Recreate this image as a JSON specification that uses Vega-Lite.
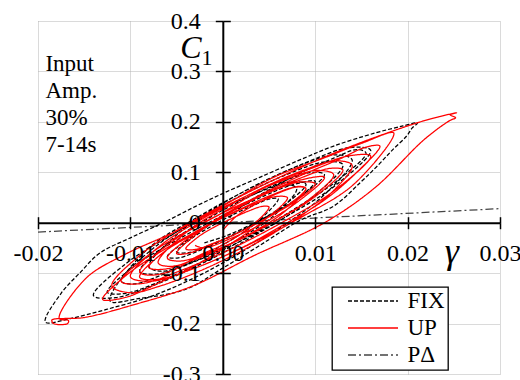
{
  "$schema": "https://vega.github.io/schema/vega-lite/v6.json",
  "width": 462,
  "height": 353,
  "autosize": "none",
  "padding": {"left": 38, "top": 21, "right": 20, "bottom": 6},
  "background": "white",
  "config": {"view": {"stroke": null}, "font": "Times New Roman, Liberation Serif, serif", "legend": {"strokeColor": "black", "strokeWidth": 1.3, "fillColor": "white"}},
  "datasets": {
    "curves": [
      {"s":"PΔ","g":-0.02,"c":-0.0186},{"s":"PΔ","g":0.03,"c":0.0279},
      {"s":"FIX","g":0,"c":-0.01},
      {"s":"FIX","g":0.0012,"c":0.0194},{"s":"FIX","g":0.0028,"c":0.0408},{"s":"FIX","g":0.0044,"c":0.0571},{"s":"FIX","g":0.006,"c":0.0693},{"s":"FIX","g":0.0074,"c":0.0743},{"s":"FIX","g":0.008,"c":0.0668},
      {"s":"FIX","g":0.0056,"c":0.0152},{"s":"FIX","g":0.0024,"c":-0.0252},{"s":"FIX","g":-0.0008,"c":-0.0575},{"s":"FIX","g":-0.004,"c":-0.083},{"s":"FIX","g":-0.0067,"c":-0.0962},{"s":"FIX","g":-0.008,"c":-0.0868},
      {"s":"FIX","g":-0.0047,"c":-0.0194},{"s":"FIX","g":-0.0003,"c":0.0348},{"s":"FIX","g":0.0041,"c":0.0792},{"s":"FIX","g":0.0085,"c":0.1149},{"s":"FIX","g":0.0122,"c":0.1347},{"s":"FIX","g":0.014,"c":0.1244},
      {"s":"FIX","g":0.0113,"c":0.0609},{"s":"FIX","g":0.0074,"c":0.0047},{"s":"FIX","g":0.0024,"c":-0.054},{"s":"FIX","g":-0.0026,"c":-0.105},{"s":"FIX","g":-0.0076,"c":-0.145},{"s":"FIX","g":-0.0126,"c":-0.172},{"s":"FIX","g":-0.0165,"c":-0.19},{"s":"FIX","g":-0.0192,"c":-0.197},
      {"s":"FIX","g":-0.0175,"c":-0.14},{"s":"FIX","g":-0.0155,"c":-0.1},{"s":"FIX","g":-0.0133,"c":-0.06},{"s":"FIX","g":-0.01,"c":-0.03},{"s":"FIX","g":-0.006,"c":0.004},{"s":"FIX","g":-0.003,"c":0.032},{"s":"FIX","g":0,"c":0.058},{"s":"FIX","g":0.004,"c":0.09},{"s":"FIX","g":0.0084,"c":0.125},{"s":"FIX","g":0.012,"c":0.152},{"s":"FIX","g":0.0165,"c":0.178},{"s":"FIX","g":0.0195,"c":0.192},{"s":"FIX","g":0.0211,"c":0.198},
      {"s":"FIX","g":0.0205,"c":0.188},{"s":"FIX","g":0.0199,"c":0.172},{"s":"FIX","g":0.0184,"c":0.145},{"s":"FIX","g":0.0167,"c":0.112},{"s":"FIX","g":0.0149,"c":0.08},{"s":"FIX","g":0.012,"c":0.033},{"s":"FIX","g":0.0084,"c":0.005},{"s":"FIX","g":0.004,"c":-0.045},{"s":"FIX","g":0,"c":-0.09},{"s":"FIX","g":-0.004,"c":-0.132},{"s":"FIX","g":-0.009,"c":-0.15},{"s":"FIX","g":-0.0122,"c":-0.155},
      {"s":"FIX","g":-0.0082,"c":-0.0533},{"s":"FIX","g":-0.0025,"c":0.0134},{"s":"FIX","g":0.0032,"c":0.0703},{"s":"FIX","g":0.0089,"c":0.1185},{"s":"FIX","g":0.0137,"c":0.1489},{"s":"FIX","g":0.016,"c":0.1436},
      {"s":"FIX","g":0.0123,"c":0.0755},{"s":"FIX","g":0.0073,"c":0.0167},{"s":"FIX","g":0.0023,"c":-0.0332},{"s":"FIX","g":-0.0028,"c":-0.0754},{"s":"FIX","g":-0.007,"c":-0.1016},{"s":"FIX","g":-0.009,"c":-0.0964},
      {"s":"FIX","g":-0.006,"c":-0.0426},{"s":"FIX","g":-0.002,"c":0.0042},{"s":"FIX","g":0.002,"c":0.044},{"s":"FIX","g":0.006,"c":0.0779},{"s":"FIX","g":0.0094,"c":0.0992},{"s":"FIX","g":0.011,"c":0.0956},
      {"s":"FIX","g":0.0086,"c":0.0547},{"s":"FIX","g":0.0054,"c":0.0179},{"s":"FIX","g":0.0022,"c":-0.0138},{"s":"FIX","g":-0.001,"c":-0.0413},{"s":"FIX","g":-0.0037,"c":-0.0593},{"s":"FIX","g":-0.005,"c":-0.058},
      {"s":"FIX","g":-0.0034,"c":-0.0315},{"s":"FIX","g":-0.0012,"c":-0.0067},{"s":"FIX","g":0.001,"c":0.015},{"s":"FIX","g":0.0033,"c":0.0342},{"s":"FIX","g":0.0051,"c":0.0473},{"s":"FIX","g":0.006,"c":0.0476},
      {"s":"FIX","g":0.0035,"c":-0.0019},{"s":"FIX","g":0.0001,"c":-0.0429},{"s":"FIX","g":-0.0034,"c":-0.077},{"s":"FIX","g":-0.0068,"c":-0.1051},{"s":"FIX","g":-0.0096,"c":-0.1215},{"s":"FIX","g":-0.011,"c":-0.1156},
      {"s":"FIX","g":-0.0074,"c":-0.0489},{"s":"FIX","g":-0.0026,"c":0.0079},{"s":"FIX","g":0.0022,"c":0.0559},{"s":"FIX","g":0.007,"c":0.0962},{"s":"FIX","g":0.0111,"c":0.1208},{"s":"FIX","g":0.013,"c":0.1148},
      {"s":"FIX","g":0.009,"c":0.0402},{"s":"FIX","g":0.0036,"c":-0.0236},{"s":"FIX","g":-0.0019,"c":-0.0776},{"s":"FIX","g":-0.0073,"c":-0.1229},{"s":"FIX","g":-0.0116,"c":-0.1485},{"s":"FIX","g":-0.014,"c":-0.1444},
      {"s":"FIX","g":-0.0106,"c":-0.0827},{"s":"FIX","g":-0.006,"c":-0.0289},{"s":"FIX","g":-0.0014,"c":0.0168},{"s":"FIX","g":0.0033,"c":0.0558},{"s":"FIX","g":0.0072,"c":0.0804},{"s":"FIX","g":0.009,"c":0.0764},
      {"s":"FIX","g":0.0068,"c":0.0369},{"s":"FIX","g":0.0038,"c":0.0021},{"s":"FIX","g":0.0008,"c":-0.0277},{"s":"FIX","g":-0.0023,"c":-0.0533},{"s":"FIX","g":-0.0048,"c":-0.0697},{"s":"FIX","g":-0.006,"c":-0.0676},
      {"s":"FIX","g":-0.0035,"c":-0.03},{"s":"FIX","g":0.0,"c":0.012},{"s":"FIX","g":0.004,"c":0.055},{"s":"FIX","g":0.008,"c":0.095},{"s":"FIX","g":0.012,"c":0.128},{"s":"FIX","g":0.0145,"c":0.145},{"s":"FIX","g":0.0155,"c":0.138},
      {"s":"FIX","g":0.0125,"c":0.085},{"s":"FIX","g":0.008,"c":0.03},{"s":"FIX","g":0.003,"c":-0.025},{"s":"FIX","g":-0.002,"c":-0.075},{"s":"FIX","g":-0.007,"c":-0.118},{"s":"FIX","g":-0.0105,"c":-0.14},{"s":"FIX","g":-0.0125,"c":-0.138},
      {"s":"FIX","g":-0.0095,"c":-0.085},{"s":"FIX","g":-0.0055,"c":-0.04},{"s":"FIX","g":-0.001,"c":0.005},{"s":"FIX","g":0.0035,"c":0.045},{"s":"FIX","g":0.0075,"c":0.075},{"s":"FIX","g":0.01,"c":0.082},
      {"s":"FIX","g":0.0075,"c":0.04},{"s":"FIX","g":0.004,"c":0.005},{"s":"FIX","g":0.0005,"c":-0.025},{"s":"FIX","g":-0.002,"c":-0.04},
      {"s":"UP","g":0,"c":-0.015},
      {"s":"UP","g":0.0014,"c":0.0117},{"s":"UP","g":0.0032,"c":0.0331},{"s":"UP","g":0.005,"c":0.0504},{"s":"UP","g":0.0068,"c":0.0644},{"s":"UP","g":0.0083,"c":0.0721},{"s":"UP","g":0.009,"c":0.0678},
      {"s":"UP","g":0.0066,"c":0.0207},{"s":"UP","g":0.0034,"c":-0.0171},{"s":"UP","g":0.0002,"c":-0.048},{"s":"UP","g":-0.003,"c":-0.0729},{"s":"UP","g":-0.0057,"c":-0.0866},{"s":"UP","g":-0.007,"c":-0.0794},
      {"s":"UP","g":-0.0039,"c":-0.0183},{"s":"UP","g":0.0004,"c":0.0311},{"s":"UP","g":0.0046,"c":0.0717},{"s":"UP","g":0.0088,"c":0.1045},{"s":"UP","g":0.0123,"c":0.1227},{"s":"UP","g":0.014,"c":0.1138},
      {"s":"UP","g":0.0119,"c":0.0621},{"s":"UP","g":0.0088,"c":0.018},{"s":"UP","g":0.0049,"c":-0.0271},{"s":"UP","g":0.001,"c":-0.0658},{"s":"UP","g":-0.0029,"c":-0.0989},{"s":"UP","g":-0.0068,"c":-0.1256},{"s":"UP","g":-0.0099,"c":-0.1389},{"s":"UP","g":-0.012,"c":-0.1254},
      {"s":"UP","g":-0.009,"c":-0.065},{"s":"UP","g":-0.0045,"c":-0.01},{"s":"UP","g":0.0011,"c":0.045},{"s":"UP","g":0.0067,"c":0.095},{"s":"UP","g":0.0123,"c":0.14},{"s":"UP","g":0.0178,"c":0.178},{"s":"UP","g":0.0223,"c":0.205},{"s":"UP","g":0.0253,"c":0.218},
      {"s":"UP","g":0.0246,"c":0.214},{"s":"UP","g":0.0252,"c":0.208},{"s":"UP","g":0.0246,"c":0.203},
      {"s":"UP","g":0.0218,"c":0.165},{"s":"UP","g":0.0165,"c":0.07},{"s":"UP","g":0.011,"c":0.0},{"s":"UP","g":0.0034,"c":-0.065},{"s":"UP","g":-0.0032,"c":-0.125},{"s":"UP","g":-0.0097,"c":-0.163},{"s":"UP","g":-0.015,"c":-0.188},{"s":"UP","g":-0.0185,"c":-0.193},
      {"s":"UP","g":-0.0183,"c":-0.2},{"s":"UP","g":-0.0168,"c":-0.2},{"s":"UP","g":-0.0167,"c":-0.194},{"s":"UP","g":-0.0177,"c":-0.19},
      {"s":"UP","g":-0.0148,"c":-0.11},{"s":"UP","g":-0.0106,"c":-0.063},{"s":"UP","g":-0.0052,"c":-0.018},{"s":"UP","g":0.0002,"c":0.035},{"s":"UP","g":0.0055,"c":0.09},{"s":"UP","g":0.0109,"c":0.128},{"s":"UP","g":0.0151,"c":0.158},{"s":"UP","g":0.0185,"c":0.178},
      {"s":"UP","g":0.0142,"c":0.0766},{"s":"UP","g":0.0085,"c":0.011},{"s":"UP","g":0.0028,"c":-0.0437},{"s":"UP","g":-0.0029,"c":-0.0891},{"s":"UP","g":-0.0077,"c":-0.1159},{"s":"UP","g":-0.01,"c":-0.107},
      {"s":"UP","g":-0.0067,"c":-0.0445},{"s":"UP","g":-0.0023,"c":0.0067},{"s":"UP","g":0.0021,"c":0.0491},{"s":"UP","g":0.0065,"c":0.0838},{"s":"UP","g":0.0102,"c":0.1036},{"s":"UP","g":0.012,"c":0.0954},
      {"s":"UP","g":0.0093,"c":0.0456},{"s":"UP","g":0.0057,"c":0.004},{"s":"UP","g":0.0021,"c":-0.0305},{"s":"UP","g":-0.0015,"c":-0.0591},{"s":"UP","g":-0.0046,"c":-0.076},{"s":"UP","g":-0.006,"c":-0.0702},
      {"s":"UP","g":-0.0038,"c":-0.0316},{"s":"UP","g":-0.0008,"c":0.002},{"s":"UP","g":0.0023,"c":0.0306},{"s":"UP","g":0.0053,"c":0.055},{"s":"UP","g":0.0078,"c":0.0704},{"s":"UP","g":0.009,"c":0.0678},
      {"s":"UP","g":0.0071,"c":0.0356},{"s":"UP","g":0.0045,"c":0.0068},{"s":"UP","g":0.0019,"c":-0.0179},{"s":"UP","g":-0.0008,"c":-0.0392},{"s":"UP","g":-0.003,"c":-0.0531},{"s":"UP","g":-0.004,"c":-0.0518},
      {"s":"UP","g":-0.0027,"c":-0.0287},{"s":"UP","g":-0.0009,"c":-0.0085},{"s":"UP","g":0.001,"c":0.0086},{"s":"UP","g":0.0028,"c":0.0233},{"s":"UP","g":0.0043,"c":0.0325},{"s":"UP","g":0.005,"c":0.031},
      {"s":"UP","g":0.0029,"c":-0.0097},{"s":"UP","g":-0.0001,"c":-0.0445},{"s":"UP","g":-0.0027,"c":-0.066},{"s":"UP","g":-0.0055,"c":-0.095},{"s":"UP","g":-0.0079,"c":-0.104},{"s":"UP","g":-0.009,"c":-0.0978},
      {"s":"UP","g":-0.0053,"c":-0.0347},{"s":"UP","g":-0.0003,"c":0.017},{"s":"UP","g":0.0048,"c":0.072},{"s":"UP","g":0.0098,"c":0.1093},{"s":"UP","g":0.0137,"c":0.1327},{"s":"UP","g":0.016,"c":0.1322},
      {"s":"UP","g":0.012,"c":0.0628},{"s":"UP","g":0.0066,"c":0.0024},{"s":"UP","g":0.0012,"c":-0.0492},{"s":"UP","g":-0.0043,"c":-0.0931},{"s":"UP","g":-0.0088,"c":-0.1207},{"s":"UP","g":-0.011,"c":-0.1162},
      {"s":"UP","g":-0.0079,"c":-0.0622},{"s":"UP","g":-0.0037,"c":-0.0152},{"s":"UP","g":0.0006,"c":0.0249},{"s":"UP","g":0.0048,"c":0.059},{"s":"UP","g":0.0083,"c":0.0805},{"s":"UP","g":0.01,"c":0.077},
      {"s":"UP","g":0.0078,"c":0.042},{"s":"UP","g":0.0048,"c":0.0096},{"s":"UP","g":0.0018,"c":-0.0188},{"s":"UP","g":-0.0013,"c":-0.0438},{"s":"UP","g":-0.0038,"c":-0.0609},{"s":"UP","g":-0.005,"c":-0.061},
      {"s":"UP","g":-0.0023,"c":-0.0148},{"s":"UP","g":0.0013,"c":0.0256},{"s":"UP","g":0.0049,"c":0.06},{"s":"UP","g":0.0085,"c":0.0892},{"s":"UP","g":0.0116,"c":0.1077},{"s":"UP","g":0.013,"c":0.1046},
      {"s":"UP","g":0.0099,"c":0.0506},{"s":"UP","g":0.0057,"c":0.0036},{"s":"UP","g":0.0015,"c":-0.0365},{"s":"UP","g":-0.0028,"c":-0.0706},{"s":"UP","g":-0.0063,"c":-0.0921},{"s":"UP","g":-0.008,"c":-0.0886},
      {"s":"UP","g":-0.0058,"c":-0.05},{"s":"UP","g":-0.0028,"c":-0.0164},{"s":"UP","g":0.0003,"c":0.0122},{"s":"UP","g":0.0033,"c":0.0366},{"s":"UP","g":0.0058,"c":0.052},{"s":"UP","g":0.007,"c":0.0494},
      {"s":"UP","g":0.0045,"c":0.005},{"s":"UP","g":0.001,"c":-0.04},{"s":"UP","g":-0.003,"c":-0.085},{"s":"UP","g":-0.007,"c":-0.12},{"s":"UP","g":-0.0105,"c":-0.148},{"s":"UP","g":-0.013,"c":-0.152},
      {"s":"UP","g":-0.0105,"c":-0.105},{"s":"UP","g":-0.0065,"c":-0.055},{"s":"UP","g":-0.002,"c":-0.008},{"s":"UP","g":0.003,"c":0.045},{"s":"UP","g":0.008,"c":0.09},{"s":"UP","g":0.0125,"c":0.125},{"s":"UP","g":0.0155,"c":0.15},{"s":"UP","g":0.017,"c":0.152},
      {"s":"UP","g":0.0145,"c":0.1},{"s":"UP","g":0.011,"c":0.045},{"s":"UP","g":0.0065,"c":-0.005},{"s":"UP","g":0.002,"c":-0.05},{"s":"UP","g":-0.003,"c":-0.09},{"s":"UP","g":-0.007,"c":-0.112},{"s":"UP","g":-0.009,"c":-0.108},
      {"s":"UP","g":-0.0065,"c":-0.06},{"s":"UP","g":-0.003,"c":-0.02},{"s":"UP","g":0.001,"c":0.025},{"s":"UP","g":0.005,"c":0.06},{"s":"UP","g":0.0085,"c":0.085},{"s":"UP","g":0.011,"c":0.09},
      {"s":"UP","g":0.008,"c":0.04},{"s":"UP","g":0.0045,"c":0.0},{"s":"UP","g":0.001,"c":-0.03},{"s":"UP","g":-0.002,"c":-0.05},{"s":"UP","g":-0.003,"c":-0.045}
    ]
  },
  "layer": [
    {
      "data": {"name": "curves"},
      "mark": {"type": "line", "interpolate": "catmull-rom", "strokeWidth": 1.25},
      "encoding": {
        "x": {"field": "g", "type": "quantitative",
          "scale": {"domain": [-0.02, 0.03], "nice": false, "zero": false},
          "axis": {"orient": "bottom", "values": [-0.02, -0.01, 0, 0.01, 0.02, 0.03], "grid": true, "gridColor": "#b4b4b4", "gridDash": [1, 1], "gridWidth": 1, "domain": false, "ticks": false, "labels": false, "title": null, "zindex": 0}},
        "y": {"field": "c", "type": "quantitative",
          "scale": {"domain": [-0.3, 0.4], "nice": false, "zero": false},
          "axis": {"orient": "left", "values": [-0.3, -0.2, -0.1, 0, 0.1, 0.2, 0.3, 0.4], "grid": true, "gridColor": "#b4b4b4", "gridDash": [1, 1], "gridWidth": 1, "domain": false, "ticks": false, "labels": false, "title": null, "zindex": 0}},
        "color": {"field": "s", "type": "nominal",
          "scale": {"domain": ["FIX", "UP", "PΔ"], "range": ["#000000", "#ff0000", "#444444"]},
          "legend": {"orient": "none", "legendX": 294, "legendY": 266, "title": null, "padding": 2.5, "symbolType": "M-5,0H5", "symbolSize": 100, "symbolStrokeWidth": 1.5, "symbolOffset": 27, "labelOffset": 23, "rowPadding": 3, "labelFont": "Times New Roman, Liberation Serif, serif", "labelFontSize": 23, "labelColor": "black", "labelExpr": "datum.label + '\u00a0\u00a0'"}},
        "strokeDash": {"field": "s", "type": "nominal",
          "scale": {"domain": ["FIX", "UP", "PΔ"], "range": [[4, 2], [1, 0], [8, 3, 2, 3]]},
          "legend": {"orient": "none", "legendX": 294, "legendY": 266, "title": null, "padding": 2.5, "symbolType": "M-5,0H5", "symbolSize": 100, "symbolStrokeWidth": 1.5, "symbolOffset": 27, "labelOffset": 23, "rowPadding": 3, "labelFont": "Times New Roman, Liberation Serif, serif", "labelFontSize": 23, "labelColor": "black", "labelExpr": "datum.label + '\u00a0\u00a0'"}},
        "order": {"value": null}
      }
    },
    {
      "data": {"values": [{}]},
      "mark": {"type": "text", "text": ["Input", "Amp.", "30%", "7-14s"], "align": "left", "baseline": "alphabetic", "font": "Times New Roman, Liberation Serif, serif", "fontSize": 23, "lineHeight": 27, "color": "black"},
      "encoding": {
        "x": {"datum": -0.0192, "type": "quantitative",
          "scale": {"domain": [-0.02, 0.03], "nice": false, "zero": false},
          "axis": {"orient": "bottom", "offset": -151.29, "values": [-0.02, -0.01, 0, 0.01, 0.02, 0.03], "labelExpr": "datum.value == 0 ? '0.00' : '' + datum.value", "grid": false, "domainColor": "black", "domainWidth": 2, "tickColor": "black", "tickWidth": 1.5, "tickSize": 6, "labelFont": "Times New Roman, Liberation Serif, serif", "labelFontSize": 24, "labelColor": "black", "labelPadding": 32, "labelBaseline": "alphabetic", "labelFlush": false, "labelOverlap": false, "labelBound": false, "title": null, "zindex": 1}},
        "y": {"datum": 0.3, "type": "quantitative",
          "scale": {"domain": [-0.3, 0.4], "nice": false, "zero": false},
          "axis": {"orient": "left", "offset": -184.8, "values": [-0.3, -0.2, -0.1, 0, 0.1, 0.2, 0.3, 0.4], "labelExpr": "'' + datum.value", "grid": false, "domainColor": "black", "domainWidth": 2, "tickColor": "black", "tickWidth": 1.5, "tickSize": 7.5, "labelFont": "Times New Roman, Liberation Serif, serif", "labelFontSize": 24, "labelColor": "black", "labelPadding": 15, "labelFlush": false, "labelOverlap": false, "labelBound": false, "title": null, "zindex": 1}}
      }
    },
    {
      "data": {"values": [{}]},
      "mark": {"type": "text", "text": "C", "align": "left", "baseline": "alphabetic", "font": "Times New Roman, Liberation Serif, serif", "fontStyle": "italic", "fontSize": 32, "color": "black"},
      "encoding": {
        "x": {"datum": -0.0046, "type": "quantitative",
          "scale": {"domain": [-0.02, 0.03], "nice": false, "zero": false},
          "axis": {"orient": "bottom", "offset": -151.29, "values": [-0.02, -0.01, 0, 0.01, 0.02, 0.03], "grid": false, "domain": false, "labels": false, "tickColor": "black", "tickWidth": 1.5, "tickSize": -6, "title": null, "zindex": 1}},
        "y": {"datum": 0.3273, "type": "quantitative",
          "scale": {"domain": [-0.3, 0.4], "nice": false, "zero": false},
          "axis": {"orient": "left", "offset": -184.8, "values": [-0.3, -0.2, -0.1, 0, 0.1, 0.2, 0.3, 0.4], "grid": false, "domain": false, "labels": false, "tickColor": "black", "tickWidth": 1.5, "tickSize": -7.5, "title": null, "zindex": 1}}
      }
    },
    {
      "data": {"values": [{}]},
      "mark": {"type": "text", "text": "1", "align": "left", "baseline": "alphabetic", "font": "Times New Roman, Liberation Serif, serif", "fontSize": 22, "color": "black"},
      "encoding": {
        "x": {"datum": -0.0023, "type": "quantitative", "scale": {"domain": [-0.02, 0.03], "nice": false, "zero": false}, "axis": null},
        "y": {"datum": 0.3134, "type": "quantitative", "scale": {"domain": [-0.3, 0.4], "nice": false, "zero": false}, "axis": null}
      }
    },
    {
      "data": {"values": [{}]},
      "mark": {"type": "text", "text": "γ", "align": "center", "baseline": "alphabetic", "font": "Times New Roman, Liberation Serif, serif", "fontStyle": "italic", "fontSize": 36, "color": "black"},
      "encoding": {
        "x": {"datum": 0.0248, "type": "quantitative", "scale": {"domain": [-0.02, 0.03], "nice": false, "zero": false}, "axis": null},
        "y": {"datum": -0.079, "type": "quantitative", "scale": {"domain": [-0.3, 0.4], "nice": false, "zero": false}, "axis": null}
      }
    }
  ],
  "resolve": {"axis": {"x": "independent", "y": "independent"}}
}
